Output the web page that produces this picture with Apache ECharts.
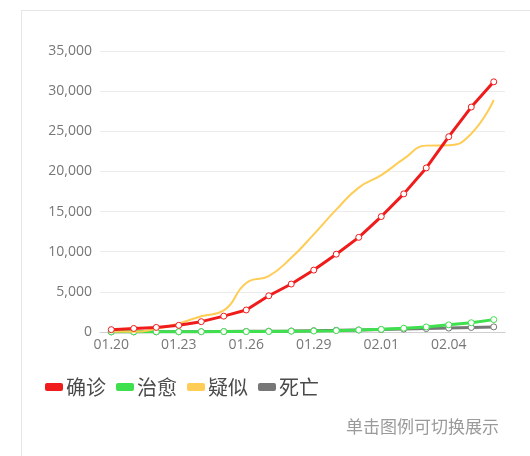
<!DOCTYPE html>
<html>
<head>
<meta charset="utf-8">
<script src="https://cdn.jsdelivr.net/npm/echarts@6/dist/echarts.min.js"></script>
<style>
  html, body { margin: 0; padding: 0; background: #fff; }
  #card { position: absolute; left: 21px; top: 10px; width: 540px; height: 470px;
          border: 1px solid #e6e6e6; box-sizing: border-box; }
  #chart { position: absolute; left: 0; top: 0; width: 530px; height: 456px; }
</style>
</head>
<body>
<div id="card"></div>
<div id="chart"></div>
<script>
// Daily national totals, 01.20 – 02.06
const dates = ['01.20','01.21','01.22','01.23','01.24','01.25','01.26','01.27','01.28',
               '01.29','01.30','01.31','02.01','02.02','02.03','02.04','02.05','02.06'];
const confirmed = [291, 440, 571, 830, 1287, 1975, 2744, 4515, 5974,
                   7711, 9692, 11791, 14380, 17205, 20438, 24324, 28018, 31161];
const cured = [25, 28, 28, 34, 38, 49, 51, 60, 103,
               124, 171, 243, 328, 475, 632, 892, 1153, 1540];
const suspected = [54, 37, 393, 1072, 1965, 2684, 6100, 6973, 9239,
                   12167, 15238, 17988, 19544, 21558, 23214, 23260, 24702, 28900];
const deaths = [6, 9, 17, 25, 41, 56, 80, 106, 132,
                170, 213, 259, 304, 361, 425, 490, 563, 636];

const seriesNames = ['确诊', '治愈', '疑似', '死亡'];
const seriesColors = ['#f01c1c', '#3ee04e', '#ffcd55', '#777777'];
const yMax = 35000;
const yStep = 5000;

const chart = echarts.init(document.getElementById('chart'), null, { renderer: 'canvas' });

// white dot markers with a thin coloured rim, line drawn in the series colour
function lineSeries(i, data, extra) {
  return Object.assign({
    name: seriesNames[i],
    type: 'line',
    data: data,
    symbol: 'circle',
    symbolSize: 6,
    lineStyle: { width: 3, color: seriesColors[i] },
    itemStyle: { color: '#ffffff', borderColor: seriesColors[i], borderWidth: 1 },
    emphasis: { disabled: true }
  }, extra || {});
}

chart.setOption({
  animation: false,
  color: seriesColors,
  title: {
    text: '单击图例可切换展示',
    right: 26,
    top: 413,
    textStyle: { color: '#9a9a9a', fontSize: 17, fontWeight: 'normal',
                 fontFamily: 'Noto Sans CJK SC' }
  },
  legend: {
    data: seriesNames.map((n, i) => ({ name: n, itemStyle: { color: seriesColors[i], borderWidth: 0 } })),
    left: 40,
    top: 372,
    itemWidth: 18,
    itemHeight: 8,
    itemGap: 10,
    icon: 'roundRect',
    textStyle: { color: '#4a4a4a', fontSize: 20, fontFamily: 'Noto Sans CJK SC', padding: [0, 0, 0, -2] }
  },
  grid: { left: 100, right: 25, top: 51, bottom: 124 },
  xAxis: {
    type: 'category',
    data: dates,
    boundaryGap: true,
    axisLine: { lineStyle: { color: '#cfcfcf' } },
    axisTick: { show: false },
    axisLabel: { interval: 2, color: '#777', fontSize: 14, margin: 6,
                 fontFamily: 'Open Sans' }
  },
  yAxis: {
    type: 'value',
    min: 0,
    max: yMax,
    interval: yStep,
    axisLine: { show: false },
    axisTick: { show: false },
    splitLine: { lineStyle: { color: '#ececec' } },
    axisLabel: {
      color: '#777', fontSize: 14, margin: 8, fontFamily: 'Open Sans',
      formatter: v => v.toLocaleString('en-US')
    }
  },
  series: [
    lineSeries(0, confirmed, { z: 5 }),
    lineSeries(1, cured, { z: 3 }),
    lineSeries(2, suspected, { z: 4, smooth: true, showSymbol: false,
                               lineStyle: { width: 2, color: seriesColors[2] } }),
    lineSeries(3, deaths, { z: 2 })
  ]
});
</script>
</body>
</html>
